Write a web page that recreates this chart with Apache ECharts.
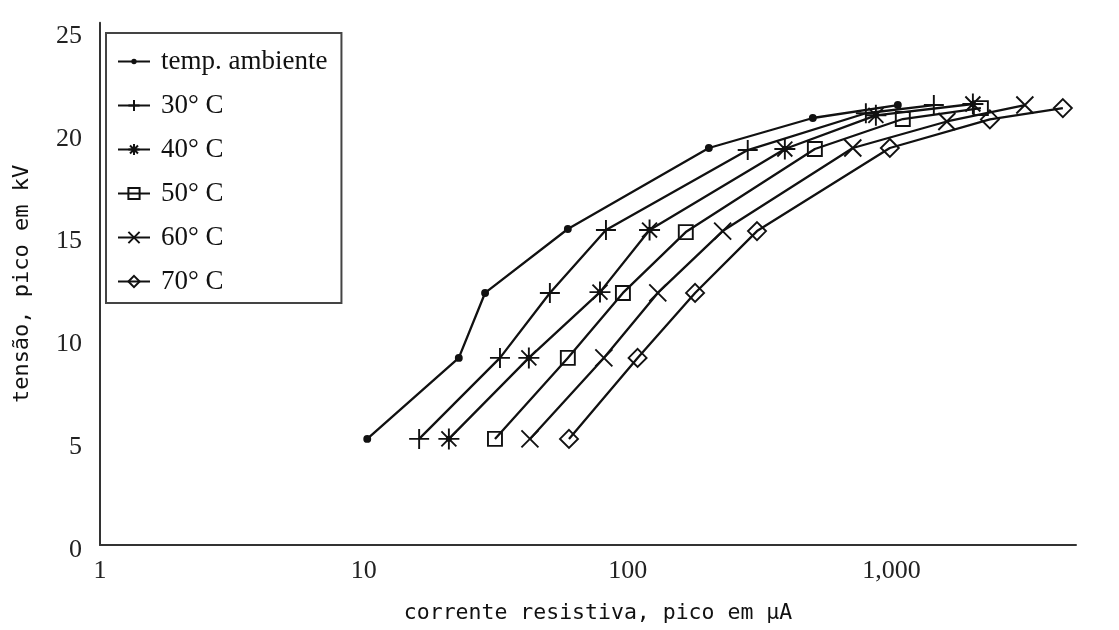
<!DOCTYPE html>
<html>
<head>
<meta charset="utf-8">
<script src="https://cdn.jsdelivr.net/npm/echarts@6/dist/echarts.min.js"></script>
<style>
  html, body { margin: 0; padding: 0; background: #fff; }
  #chart { width: 1119px; height: 630px; }
</style>
</head>
<body>
<div id="chart"></div>
<script>
// Peak resistive current (µA) vs. peak voltage (kV) at several temperatures
const seriesNames = ['temp. ambiente', '30° C', '40° C', '50° C', '60° C', '70° C'];

const ambCurrent = [10.3, 22.9, 28.8, 59.3, 203, 503, 1056];
const ambVoltage = [5.16, 9.1, 12.26, 15.37, 19.31, 20.77, 21.4];

const t30Current = [16.2, 32.8, 50.7, 82.7, 285, 799, 1446];
const t30Voltage = [5.16, 9.1, 12.26, 15.32, 19.21, 21.0, 21.4];

const t40Current = [21.0, 42.2, 78.5, 121, 394, 872, 2033];
const t40Voltage = [5.16, 9.1, 12.3, 15.32, 19.26, 20.9, 21.45];

const t50Current = [31.4, 59.3, 95.9, 166, 512, 1103, 2180];
const t50Voltage = [5.16, 9.1, 12.26, 15.22, 19.26, 20.72, 21.25];

const t60Current = [42.6, 81.2, 130, 229, 713, 1620, 3200];
const t60Voltage = [5.16, 9.1, 12.26, 15.27, 19.31, 20.6, 21.4];

const t70Current = [59.9, 109, 180, 309, 985, 2358, 4458];
const t70Voltage = [5.16, 9.1, 12.26, 15.27, 19.31, 20.7, 21.25];

const xTickValues = [1, 10, 100, 1000];
const yTickValues = [0, 5, 10, 15, 20, 25];

const currents = [ambCurrent, t30Current, t40Current, t50Current, t60Current, t70Current];
const voltages = [ambVoltage, t30Voltage, t40Voltage, t50Voltage, t60Voltage, t70Voltage];

const INK = '#111';
const markers = [
  { symbol: 'circle', size: 6, fill: INK },
  { symbol: 'path://M0,8H16M8,0V16', size: 20, fill: INK },
  { symbol: 'path://M0,8H16M8,0V16M2.3,2.3L13.7,13.7M2.3,13.7L13.7,2.3M6.5,6.5H9.5V9.5H6.5Z', size: 21, fill: INK },
  { symbol: 'rect', size: 14, fill: 'rgba(0,0,0,0)' },
  { symbol: 'path://M0,0L16,16M0,16L16,0', size: 17, fill: INK },
  { symbol: 'diamond', size: 18, fill: 'rgba(0,0,0,0)' }
];

// legend key for the ambient series: short rule with a small dot (box 32 x 14)
const ambientLegendIcon = 'path://M0,0M32,14M0,6.1H32V7.9H0Z M16,4.3A2.7,2.7 0 1,1 15.99,4.3Z';

const series = seriesNames.map((name, i) => ({
  name: name,
  type: 'line',
  data: currents[i].map((c, k) => [c, voltages[i][k]]),
  symbol: markers[i].symbol,
  symbolSize: markers[i].size,
  showSymbol: true,
  lineStyle: { color: INK, width: 2.3 },
  itemStyle: { color: markers[i].fill, borderColor: INK, borderWidth: 1.9 },
  emphasis: { disabled: true },
  z: 2
}));

const legendData = seriesNames.map((name, i) =>
  i === 0 ? { name: name, icon: ambientLegendIcon, itemStyle: { color: INK, borderWidth: 0 } } : { name: name }
);

const chart = echarts.init(document.getElementById('chart'), null, { renderer: 'canvas' });
chart.setOption({
  animation: false,
  backgroundColor: '#fff',
  grid: { left: 100, right: 43, top: 22.8, bottom: 85, outerBoundsMode: 'none' },
  legend: {
    orient: 'vertical',
    left: 106,
    top: 33,
    padding: [15, 14, 8, 11],
    itemGap: 17,
    itemWidth: 32,
    itemHeight: 14,
    borderColor: '#444',
    borderWidth: 2,
    backgroundColor: '#fff',
    textStyle: { fontFamily: 'Liberation Serif', fontSize: 27, color: INK, padding: [0, 0, 0, 6] },
    data: legendData
  },
  xAxis: {
    type: 'log',
    logBase: 10,
    min: 1,
    max: 5000,
    axisLine: { show: true, onZero: false, lineStyle: { color: '#333', width: 2 } },
    axisTick: { show: false },
    minorTick: { show: false },
    splitLine: { show: false },
    axisLabel: {
      fontFamily: 'Liberation Serif',
      fontSize: 26,
      color: '#222',
      margin: 13,
      formatter: function (v) {
        const r = Math.round(v);
        return xTickValues.indexOf(r) >= 0 ? r.toLocaleString('en-US') : '';
      }
    },
    name: 'corrente resistiva, pico em μA',
    nameLocation: 'middle',
    nameGap: 57,
    nameTextStyle: { fontFamily: 'DejaVu Sans Mono', fontSize: 21.5, color: INK, padding: [0, 0, 0, 20] }
  },
  yAxis: {
    type: 'value',
    min: 0,
    max: 25.4,
    interval: 5,
    axisLine: { show: true, onZero: false, lineStyle: { color: '#333', width: 2 } },
    axisTick: { show: false },
    splitLine: { show: false },
    axisLabel: {
      fontFamily: 'Liberation Serif',
      fontSize: 26,
      color: '#222',
      margin: 18,
      verticalAlign: 'top',
      lineHeight: 10,
      formatter: function (v) {
        return yTickValues.indexOf(v) >= 0 ? String(v) : '';
      }
    },
    name: 'tensão, pico em kV',
    nameLocation: 'middle',
    nameRotate: 90,
    nameGap: 67,
    nameTextStyle: { fontFamily: 'DejaVu Sans Mono', fontSize: 22, color: INK }
  },
  series: series
});
</script>
</body>
</html>
